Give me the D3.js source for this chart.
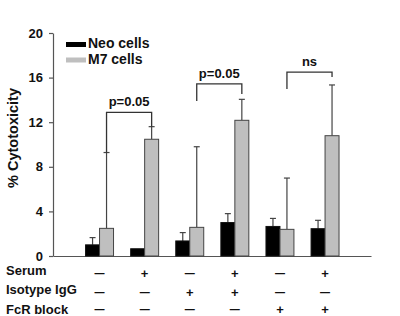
<!DOCTYPE html>
<html>
<head>
<meta charset="utf-8">
<script src="https://cdn.jsdelivr.net/npm/d3@7"></script>
<style>
  body { margin: 0; background: #fff; }
  svg { display: block; }
  text { font-family: 'Liberation Sans', Arial, sans-serif; font-weight: bold; fill: #111; }
</style>
</head>
<body>
<svg id="area" width="400" height="316"></svg>
<script>
// data
const groups = ['g1', 'g2', 'g3', 'g4', 'g5', 'g6'];
const series = ['Neo cells', 'M7 cells'];
const neoValues = [1.0, 0.65, 1.35, 3.0, 2.65, 2.45];
const neoErrors = [0.65, 0, 0.75, 0.8, 0.72, 0.75];
const m7Values = [2.48, 10.47, 2.57, 12.17, 2.39, 10.79];
const m7Errors = [6.8, 1.13, 7.23, 1.88, 4.6, 4.55];
const yTicks = [0, 4, 8, 12, 16, 20];

const rowLabels = ['Serum', 'Isotype IgG', 'FcR block'];
const serumRow = ['\u2014', '+', '\u2014', '+', '\u2014', '+'];
const isotypeRow = ['\u2014', '\u2014', '+', '+', '\u2014', '\u2014'];
const fcrRow = ['\u2014', '\u2014', '\u2014', '\u2014', '+', '+'];

// brackets: from group, to group, top, left leg end, right leg end (data units)
const brackets = [
  { from: 0, to: 1, top: 12.89, leftEnd: 9.27, rightEnd: 11.6, label: 'p=0.05' },
  { from: 2, to: 3, top: 15.43, leftEnd: 13.9, rightEnd: 14.53, label: 'p=0.05' },
  { from: 4, to: 5, top: 16.5, leftEnd: 14.98, rightEnd: 16.05, label: 'ns' },
];

const svg = d3.select('#area');
const margin = { top: 33, left: 53, right: 29, bottom: 60 };
const width = 400;
const height = 316;
const axisColor = '#555';

const y = d3.scaleLinear()
  .domain([0, 20])
  .range([height - margin.bottom, margin.top]);

const x = d3.scaleBand()
  .domain(groups)
  .range([77, 347.6])
  .paddingInner(0.38)
  .paddingOuter(0.19);

const xs = d3.scaleBand()
  .domain(series)
  .range([0, x.bandwidth()]);

const color = d3.scaleOrdinal()
  .domain(series)
  .range(['#000', '#bfbfbf']);

const rows = groups.map((g, i) => ([
  { g, s: series[0], v: neoValues[i], e: neoErrors[i] },
  { g, s: series[1], v: m7Values[i], e: m7Errors[i] },
])).flat();

// y axis
const yAxis = d3.axisLeft(y).tickValues(yTicks).tickSize(4).tickSizeOuter(0).tickPadding(6);
const gy = svg.append('g')
  .attr('transform', `translate(${margin.left},0)`)
  .call(yAxis);
gy.selectAll('path, line').attr('stroke', axisColor).attr('stroke-width', 1.2);
gy.selectAll('text').style('font-size', '13px').style('font-family', "'Liberation Sans', Arial, sans-serif")
  .style('font-weight', 'bold').attr('fill', '#111');

// x axis line (no ticks)
const xLine = d3.scaleLinear().range([margin.left, width - margin.right]);
const gx = svg.append('g')
  .attr('transform', `translate(0,${y(0)})`)
  .call(d3.axisBottom(xLine).tickValues([]).tickSizeOuter(0));
gx.select('path').attr('stroke', axisColor).attr('stroke-width', 1.2);

// error bars (drawn first so bars overlap base)
const cx = (d) => x(d.g) + xs(d.s) + xs.bandwidth() / 2;
const errs = svg.append('g').selectAll('g')
  .data(rows.filter((d) => d.e > 0))
  .join('g')
  .attr('stroke', '#444')
  .attr('stroke-width', 1.2);
errs.append('line')
  .attr('x1', cx).attr('x2', cx)
  .attr('y1', (d) => y(d.v)).attr('y2', (d) => y(d.v + d.e));
errs.append('line')
  .attr('x1', (d) => cx(d) - 3).attr('x2', (d) => cx(d) + 3)
  .attr('y1', (d) => y(d.v + d.e)).attr('y2', (d) => y(d.v + d.e));

// bars
svg.append('g').selectAll('rect')
  .data(rows)
  .join('rect')
  .attr('x', (d) => x(d.g) + xs(d.s))
  .attr('y', (d) => y(d.v))
  .attr('width', xs.bandwidth())
  .attr('height', (d) => y(0) - y(d.v))
  .attr('fill', (d) => color(d.s))
  .attr('stroke', (d) => (d.s === series[0] ? '#111' : '#444'))
  .attr('stroke-width', 1);

// brackets
const grayX = (i) => x(groups[i]) + xs(series[1]) + xs.bandwidth() / 2;
const br = svg.append('g').selectAll('g')
  .data(brackets)
  .join('g');
br.append('path')
  .attr('d', (d) => `M${grayX(d.from)},${y(d.leftEnd)}V${y(d.top)}H${grayX(d.to)}V${y(d.rightEnd)}`)
  .attr('fill', 'none')
  .attr('stroke', '#333')
  .attr('stroke-width', 1.3);
br.append('text')
  .attr('x', (d) => (grayX(d.from) + grayX(d.to)) / 2)
  .attr('y', (d) => y(d.top) - 6)
  .attr('text-anchor', 'middle')
  .style('font-size', '13px')
  .text((d) => d.label);

// legend
const legend = svg.append('g').selectAll('g')
  .data(series)
  .join('g')
  .attr('transform', (d, i) => `translate(66,${42 + i * 15.5})`);
legend.append('rect')
  .attr('width', 20)
  .attr('height', 5)
  .attr('fill', (d) => color(d));
legend.append('text')
  .attr('x', 22)
  .attr('y', 6)
  .style('font-size', '14px')
  .text((d) => d);

// y label
svg.append('text')
  .attr('transform', 'translate(18,138) rotate(-90)')
  .attr('text-anchor', 'middle')
  .style('font-size', '14.5px')
  .text('% Cytotoxicity');

// condition table
const table = [serumRow, isotypeRow, fcrRow];
const rowY = [274.5, 293.5, 314];
const signY = [273, 292.7, 309];
rowLabels.forEach((label, r) => {
  svg.append('text')
    .attr('x', 6)
    .attr('y', rowY[r])
    .style('font-size', '13px')
    .text(label);
  svg.append('g').selectAll('text')
    .data(table[r])
    .join('text')
    .attr('x', (d, i) => x(groups[i]) + x.bandwidth() / 2)
    .attr('y', signY[r])
    .attr('text-anchor', 'middle')
    .attr('dominant-baseline', 'central')
    .style('font-size', (d) => (d === '+' ? '13px' : '10px'))
    .text((d) => d);
});
</script>
</body>
</html>
